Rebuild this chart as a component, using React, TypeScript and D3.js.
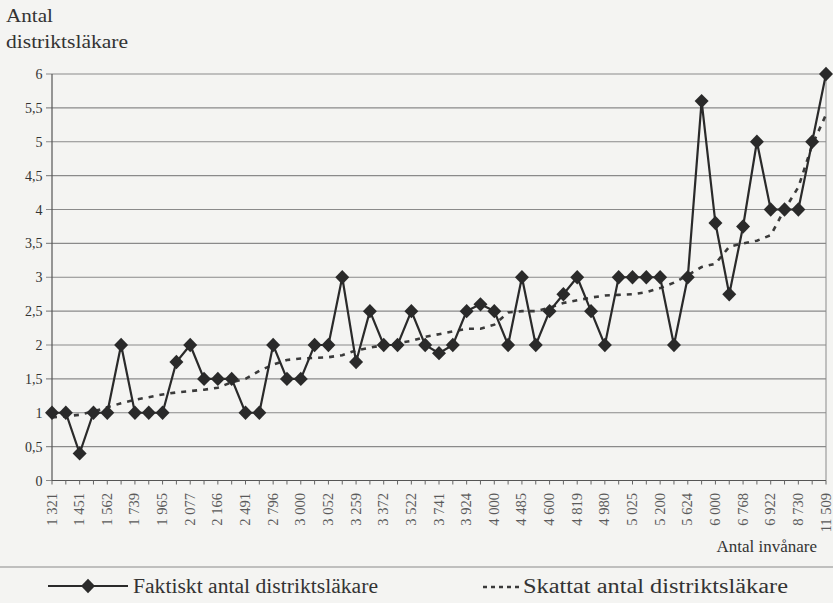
import React from "react";
import * as d3 from "d3";

const tickLabels = ["1 321","1 451","1 562","1 739","1 965","2 077","2 166","2 491","2 796","3 000","3 052","3 259","3 372","3 522","3 741","3 924","4 000","4 485","4 600","4 819","4 980","5 025","5 200","5 624","6 000","6 768","6 922","8 730","11 509"];

const actual = [1,1,0.4,1,1,2,1,1,1,1.75,2,1.5,1.5,1.5,1,1,2,1.5,1.5,2,2,3,1.75,2.5,2,2,2.5,2,1.88,2,2.5,2.6,2.5,2,3,2,2.5,2.75,3,2.5,2,3,3,3,3,2,3,5.6,3.8,2.75,3.75,5,4,4,4,5,6];

const estimated = [0.93,0.95,0.97,1.02,1.08,1.14,1.19,1.23,1.27,1.3,1.32,1.34,1.37,1.45,1.5,1.62,1.71,1.78,1.8,1.81,1.82,1.85,1.92,1.96,2.0,2.03,2.06,2.12,2.16,2.2,2.24,2.24,2.3,2.48,2.5,2.5,2.55,2.62,2.66,2.7,2.73,2.74,2.75,2.78,2.84,2.92,3.03,3.15,3.2,3.45,3.5,3.54,3.62,4.0,4.33,4.95,5.4];

const yTicks = [0,0.5,1,1.5,2,2.5,3,3.5,4,4.5,5,5.5,6];

const W = 833, H = 603;
const left = 52, right = 826, top = 74, bottom = 480.5;
const FONT = "'Liberation Serif', 'DejaVu Serif', serif";

export default function App() {
  const idx = d3.range(actual.length);
  const x = d3.scaleLinear().domain([0, actual.length - 1]).range([left, right]);
  const y = d3.scaleLinear().domain([0, 6]).range([bottom, top]);
  const line = d3.line<number>().x((_, i) => x(i)).y(d => y(d));
  const diamond = "M0,-7.2L7,0L0,7.2L-7,0Z";
  const fmt = (v: number) => String(v).replace(".", ",");

  return (
    <svg width={W} height={H} style={{ position: "absolute", left: 0, top: 0, background: "#f4f4f2" }} fontFamily={FONT}>
      <rect x={0} y={0} width={W} height={H} fill="#f4f4f2" />
      <text x={6} y={22} fontSize={19} fill="#333" textLength={47} lengthAdjust="spacingAndGlyphs">Antal</text>
      <text x={6} y={48} fontSize={19} fill="#333" textLength={122} lengthAdjust="spacingAndGlyphs">distriktsläkare</text>

      {yTicks.map(t => (
        <g key={t}>
          <line x1={left - 6} x2={right} y1={y(t)} y2={y(t)} stroke="#8a8a8a" strokeWidth={1.1} />
          <text x={42.5} y={y(t) + 5} fontSize={14} textAnchor="end" fill="#333">{fmt(t)}</text>
        </g>
      ))}
      <line x1={left} x2={left} y1={top} y2={bottom} stroke="#555" strokeWidth={1.2} />
      <line x1={right} x2={right} y1={top} y2={bottom} stroke="#8a8a8a" strokeWidth={1} />
      <line x1={left} x2={right} y1={bottom} y2={bottom} stroke="#555" strokeWidth={1.2} />
      {idx.map(i => (
        <line key={i} x1={x(i)} x2={x(i)} y1={bottom} y2={bottom + 4} stroke="#666" strokeWidth={1} />
      ))}
      {tickLabels.map((t, k) => (
        <text key={t} transform={`translate(${x(k * 2) + 4.5},493) rotate(-90)`} fontSize={14.5} textAnchor="end" fill="#5a5a5a">{t}</text>
      ))}
      <text x={817} y={552} fontSize={17} textAnchor="end" fill="#333">Antal invånare</text>

      <path d={line(estimated) || ""} fill="none" stroke="#3a3a3a" strokeWidth={2.6} strokeDasharray="5,6" />
      <path d={line(actual) || ""} fill="none" stroke="#2a2a2a" strokeWidth={2.2} />
      {actual.map((v, i) => (
        <path key={i} d={diamond} transform={`translate(${x(i)},${y(v)})`} fill="#2a2a2a" />
      ))}

      <line x1={0} x2={W} y1={567} y2={567} stroke="#8a8a8a" strokeWidth={1.2} />
      <line x1={48} x2={128} y1={586} y2={586} stroke="#2a2a2a" strokeWidth={2.2} />
      <path d={diamond} transform="translate(88,586)" fill="#2a2a2a" />
      <text x={133} y={593} fontSize={20} fill="#333" textLength={245} lengthAdjust="spacingAndGlyphs">Faktiskt antal distriktsläkare</text>
      <line x1={483} x2={522} y1={587} y2={587} stroke="#3a3a3a" strokeWidth={2.4} strokeDasharray="4,4" />
      <text x={523} y={593} fontSize={20} fill="#333" textLength={265} lengthAdjust="spacingAndGlyphs">Skattat antal distriktsläkare</text>
    </svg>
  );
}
